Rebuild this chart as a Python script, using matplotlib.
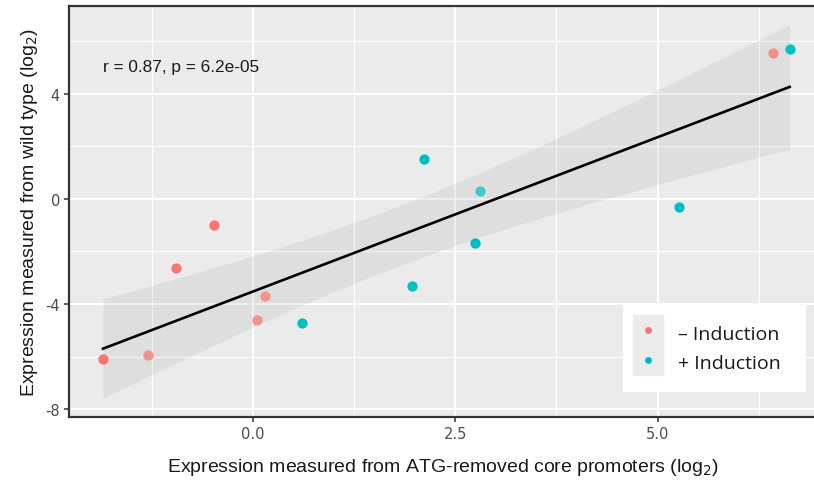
import numpy as np
import matplotlib.pyplot as plt
from matplotlib.lines import Line2D
from matplotlib.patches import Rectangle
from matplotlib.ticker import MultipleLocator

# data
minus_x = [-1.85, -1.30, -0.95, -0.48, 0.055, 0.145, 6.42]
minus_y = [-6.08, -5.95, -2.64, -0.98, -4.61, -3.71, 5.55]
plus_x = [0.61, 1.96, 2.12, 2.75, 2.81, 5.26, 6.63]
plus_y = [-4.73, -3.31, 1.52, -1.68, 0.30, -0.32, 5.69]
labels = ["\u2013 Induction", "+ Induction"]
x_ticks = [0.0, 2.5, 5.0]
y_ticks = [-8, -4, 0, 4]
stat_label = "r = 0.87, p = 6.2e-05"

# point shading in the reference (some points look lighter)
minus_alpha = [1.0, 0.75, 1.0, 1.0, 0.7, 0.7, 0.75]
plus_alpha = [1.0, 1.0, 1.0, 1.0, 0.7, 1.0, 1.0]

RED = "#F8766D"
CYAN = "#00BFC4"
PANEL = "#EBEBEB"
T975 = 2.179  # t quantile, df = 12


def main():
    fig = plt.figure(figsize=(8.14, 4.85), dpi=100)
    W, H = 814, 485
    ax = fig.add_axes([69 / W, (H - 418) / H, (818 - 69) / W, (418 - 7) / H])
    ax.set_facecolor(PANEL)

    # linear fit + 95% confidence band
    x = np.array(minus_x + plus_x)
    y = np.array(minus_y + plus_y)
    n = len(x)
    slope, intercept = np.polyfit(x, y, 1)
    resid = y - (slope * x + intercept)
    s = np.sqrt(np.sum(resid ** 2) / (n - 2))
    sxx = np.sum((x - x.mean()) ** 2)
    xs = np.linspace(x.min(), x.max(), 80)
    fit = slope * xs + intercept
    half = T975 * s * np.sqrt(1 / n + (xs - x.mean()) ** 2 / sxx)
    ax.fill_between(xs, fit - half, fit + half, color="#999999", alpha=0.15,
                    linewidth=0, zorder=2)
    ax.plot(xs, fit, color="black", lw=1.9, zorder=3)

    for xv, yv, a in zip(minus_x, minus_y, minus_alpha):
        ax.scatter(xv, yv, s=55, color=RED, alpha=a, linewidths=0, zorder=4)
    for xv, yv, a in zip(plus_x, plus_y, plus_alpha):
        ax.scatter(xv, yv, s=55, color=CYAN, alpha=a, linewidths=0, zorder=4)

    ax.set_xlim(-2.27, 6.98)
    ax.set_ylim(-8.29, 7.33)
    ax.set_xticks(x_ticks)
    ax.set_xticklabels([f"{v:.1f}" for v in x_ticks])
    ax.set_yticks(y_ticks)
    ax.set_yticklabels([str(v) for v in y_ticks])
    ax.xaxis.set_minor_locator(MultipleLocator(1.25))
    ax.yaxis.set_minor_locator(MultipleLocator(2))
    ax.grid(which="major", color="white", lw=1.4, zorder=0)
    ax.grid(which="minor", color="white", lw=0.9, zorder=0)
    ax.set_axisbelow(True)
    ax.tick_params(which="major", length=3.5, width=1.1, color="#333333",
                   labelsize=10.5, labelcolor="#4D4D4D", pad=3)
    ax.tick_params(which="minor", length=0)

    for side in ("left", "top", "bottom"):
        ax.spines[side].set_color("#333333")
        ax.spines[side].set_linewidth(1.6)
    ax.spines["right"].set_visible(False)

    title_font = dict(family="Liberation Sans", size=14, color="#1a1a1a")
    ax.set_xlabel("Expression measured from ATG-removed core promoters (log$_2$)",
                  labelpad=11, **title_font)
    ax.set_ylabel("Expression measured from wild type (log$_2$)", labelpad=4,
                  **title_font)

    ax.text(0.046, 0.852, stat_label, transform=ax.transAxes, ha="left",
            va="center", family="Liberation Sans", size=12.4, color="#1a1a1a")

    # legend box (white background, grey keys)
    fig.patches.append(Rectangle((623 / W, 1 - 393 / H), (806 - 623) / W,
                                 (393 - 306) / H, transform=fig.transFigure,
                                 facecolor="white", edgecolor="none", zorder=5))
    key_bg = dict(marker="s", markersize=22, color=PANEL, linestyle="none")
    handles = [
        (Line2D([], [], **key_bg),
         Line2D([], [], marker="o", markersize=4, color=RED, linestyle="none")),
        (Line2D([], [], **key_bg),
         Line2D([], [], marker="o", markersize=4, color=CYAN, linestyle="none")),
    ]
    leg = fig.legend(handles, labels, loc="center left",
                     bbox_to_anchor=(634 / W, 1 - 348 / H),
                     frameon=False, prop=dict(family="Open Sans", size=14),
                     handlelength=1.4, handleheight=1.3, handletextpad=0.88,
                     labelspacing=0.45, borderpad=0, borderaxespad=0)
    leg.set_zorder(6)
    for t in leg.get_texts():
        t.set_color("#1a1a1a")

    fig.savefig("out.png", dpi=100)
    plt.close(fig)


if __name__ == "__main__":
    main()
